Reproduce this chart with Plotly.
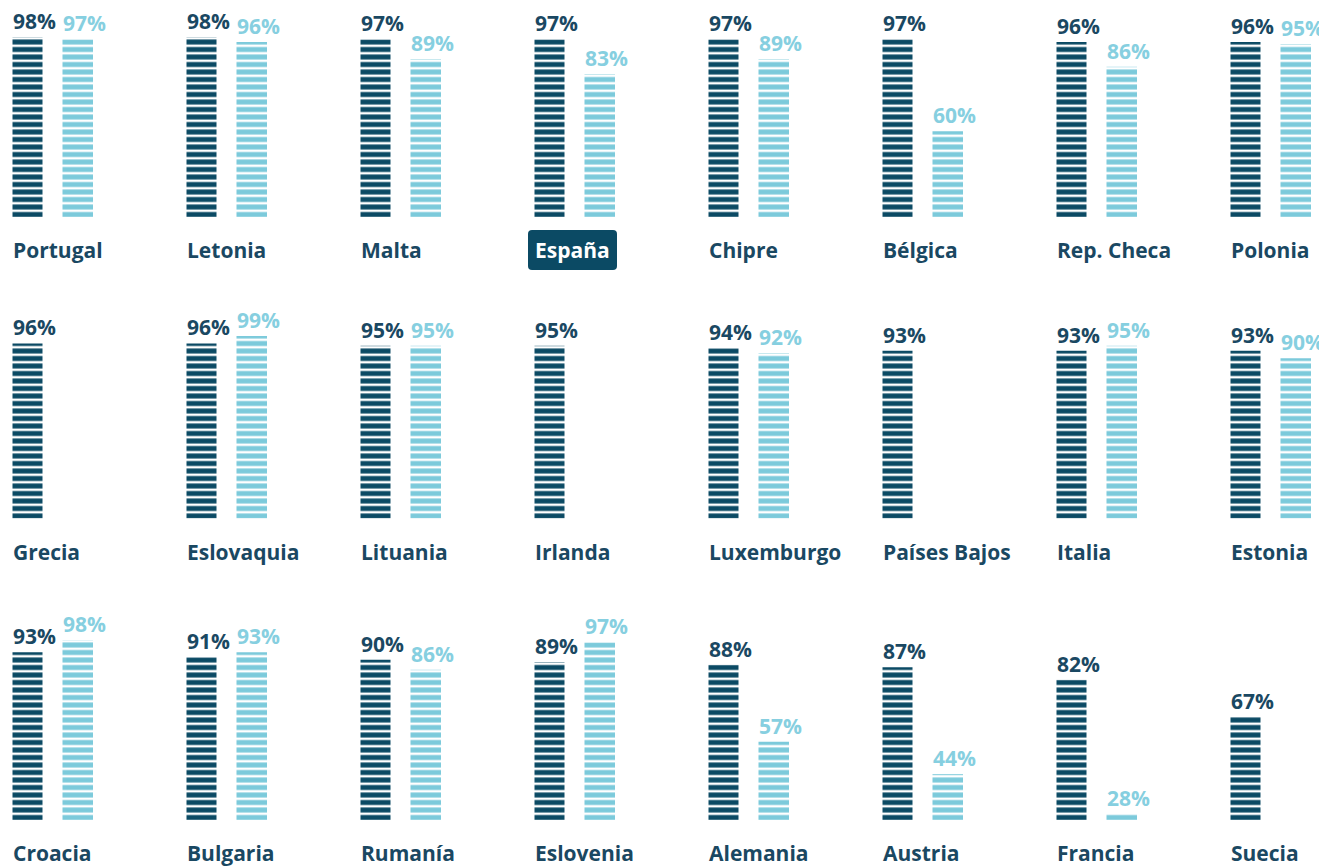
import plotly.graph_objects as go

# ---------------- data ----------------
countries = [
    "Portugal", "Letonia", "Malta", "España", "Chipre", "Bélgica", "Rep. Checa", "Polonia",
    "Grecia", "Eslovaquia", "Lituania", "Irlanda", "Luxemburgo", "Países Bajos", "Italia", "Estonia",
    "Croacia", "Bulgaria", "Rumanía", "Eslovenia", "Alemania", "Austria", "Francia", "Suecia",
]
serie_oscura = [
    98, 98, 97, 97, 97, 97, 96, 96,
    96, 96, 95, 95, 94, 93, 93, 93,
    93, 91, 90, 89, 88, 87, 82, 67,
]
serie_clara = [
    97, 96, 89, 83, 89, 60, 86, 95,
    None, 99, 95, None, 92, None, 95, 90,
    98, 93, 86, 97, 57, 44, 28, None,
]
destacado = "España"

# ---------------- style ----------------
DARK = "#0b4a64"
LIGHT = "#7ccadb"
DARK_TXT = "#1a4862"
LIGHT_TXT = "#86cfe0"
FONT = "Open Sans"

PAGE_OFF = 8           # default body margin of the html page
W, H = 1327 - PAGE_OFF, 866 - PAGE_OFF
NCOLS = 8
PITCH = 174.0          # px per column
X0 = 12.5 - PAGE_OFF   # px left of first column
BASE = 25.5            # value at the bars' baseline
SCALE = 2.484          # px per percentage point
PERIOD = 7.5           # stripe period in px
GAP = 2.5              # white gap between stripes in px
NSTR = 26
D = NSTR * PERIOD + PERIOD / 2 - GAP / 2   # plot height per row in px
ROW_BASE_PX = [217.0 - PAGE_OFF, 518.5 - PAGE_OFF, 820.0 - PAGE_OFF]

fig = go.Figure()
annotations = []
shapes = []
layout_axes = {}

for r in range(3):
    sfx = "" if r == 0 else str(r + 1)
    xa, ya = "x" + sfx, "y" + sfx
    idx = list(range(r * NCOLS, (r + 1) * NCOLS))
    cols = list(range(NCOLS))
    names = [countries[i] for i in idx]
    va = [serie_oscura[i] for i in idx]
    vb = [serie_clara[i] for i in idx]

    fig.add_trace(go.Bar(
        x=cols, y=[v - BASE for v in va], base=BASE,
        width=30 / PITCH, offset=0,
        marker=dict(color=DARK, line=dict(width=0),
                    pattern=dict(shape="-", size=PERIOD, solidity=GAP / PERIOD,
                                 fillmode="overlay", fgcolor="white", fgopacity=1)),
        hovertext=names, xaxis=xa, yaxis=ya, showlegend=False,
    ))
    fig.add_trace(go.Bar(
        x=cols, y=[(v - BASE) if v is not None else None for v in vb], base=BASE,
        width=30.5 / PITCH, offset=50 / PITCH,
        marker=dict(color=LIGHT, line=dict(width=0),
                    pattern=dict(shape="-", size=PERIOD, solidity=GAP / PERIOD,
                                 fillmode="overlay", fgcolor="white", fgopacity=1)),
        hovertext=names, xaxis=xa, yaxis=ya, showlegend=False,
    ))

    base_px = ROW_BASE_PX[r]
    dom = [1 - base_px / H, 1 - (base_px - D) / H]
    layout_axes["xaxis" + sfx] = dict(range=[-X0 / PITCH, (W - X0) / PITCH], domain=[0, 1],
                                       anchor=ya, visible=False, fixedrange=True)
    layout_axes["yaxis" + sfx] = dict(range=[BASE, BASE + D / SCALE], domain=dom,
                                       anchor=xa, visible=False, fixedrange=True)

    for c in cols:
        annotations.append(dict(
            xref=xa, yref=ya, x=c, y=va[c], xanchor="left", yanchor="middle",
            yshift=16, xshift=-1, text=f"{va[c]}%", showarrow=False, borderpad=0,
            font=dict(family=FONT, size=21, color=DARK_TXT, weight="bold"),
        ))
        if vb[c] is not None:
            annotations.append(dict(
                xref=xa, yref=ya, x=c + 50 / PITCH, y=vb[c], xanchor="left", yanchor="middle",
                yshift=16, xshift=-1, text=f"{vb[c]}%", showarrow=False, borderpad=0,
                font=dict(family=FONT, size=21, color=LIGHT_TXT, weight="bold"),
            ))
        hl = names[c] == destacado
        if hl:
            # rounded highlight box behind the name (paper-referenced so it is not clipped)
            shapes.append(dict(
                type="path", xref="paper", yref="paper", xsizemode="pixel", ysizemode="pixel",
                xanchor=(X0 + c * PITCH) / W, yanchor=1 - base_px / H,
                path="M -2.5,-13 L 78.5,-13 Q 82.5,-13 82.5,-17 L 82.5,-49 Q 82.5,-53 78.5,-53 "
                     "L -2.5,-53 Q -6.5,-53 -6.5,-49 L -6.5,-17 Q -6.5,-13 -2.5,-13 Z",
                fillcolor=DARK, line=dict(width=0), layer="above",
            ))
        annotations.append(dict(
            xref=xa, yref=ya, x=c, y=BASE, xanchor="left", yanchor="middle",
            yshift=-33, xshift=-1, text=names[c], showarrow=False, borderpad=0,
            font=dict(family=FONT, size=21, color=("white" if hl else DARK_TXT), weight="bold"),
        ))

fig.update_layout(
    width=W, height=H, margin=dict(l=0, r=0, t=0, b=0),
    paper_bgcolor="white", plot_bgcolor="white",
    barmode="overlay", annotations=annotations, shapes=shapes, **layout_axes,
)
fig.write_html("out.html")
